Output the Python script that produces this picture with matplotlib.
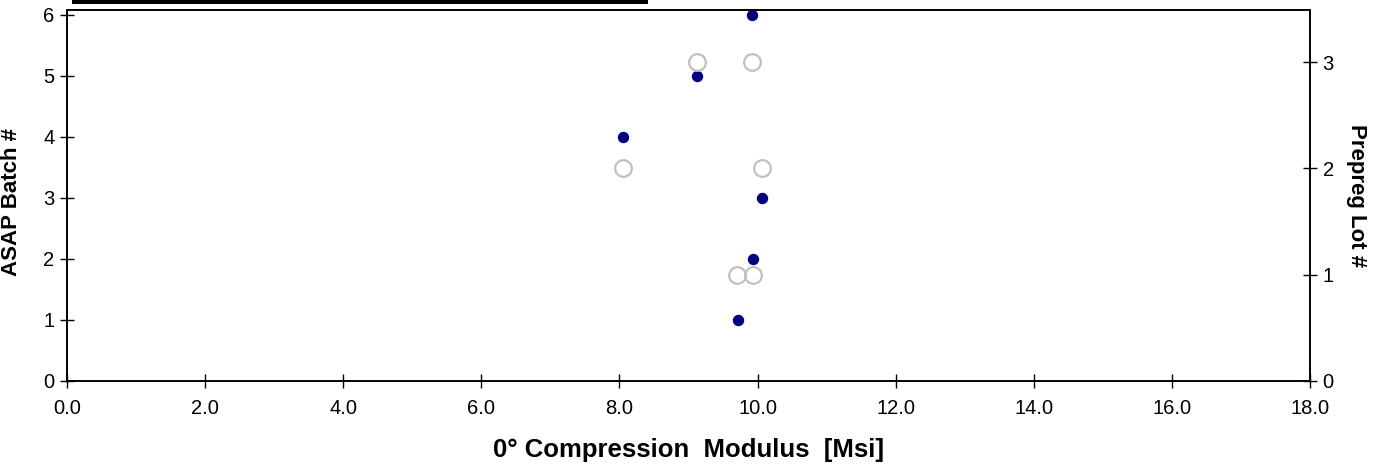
import matplotlib
matplotlib.use("Agg")
import matplotlib.pyplot as plt
from matplotlib.patches import Rectangle
from matplotlib.ticker import FormatStrFormatter

plt.rcParams['font.family'] = ['Liberation Sans', 'DejaVu Sans']

# modulus per ASAP batch (left axis)
batch_no = [1, 2, 3, 4, 5, 6]
batch_modulus = [9.72, 9.93, 10.06, 8.05, 9.12, 9.92]

# modulus per prepreg lot (right axis)
lot_no = [1, 1, 2, 2, 3, 3]
lot_modulus = [9.70, 9.93, 8.05, 10.06, 9.12, 9.92]

x_ticks = [0, 2, 4, 6, 8, 10, 12, 14, 16, 18]

fig = plt.figure(figsize=(13.84, 4.74), dpi=100)
ax = fig.add_axes([67 / 1384, 1 - 381 / 474, (1310 - 67) / 1384, (381 - 10) / 474])
ax2 = ax.twinx()

ax.plot(batch_modulus, batch_no, 'o', color='#000080', markersize=7.2,
        linestyle='none', clip_on=False, zorder=5)
ax2.plot(lot_modulus, lot_no, 'o', markerfacecolor='none', markeredgecolor='#c0c0c0',
         markeredgewidth=1.6, markersize=12, linestyle='none', clip_on=False)

ax.set_xlim(0, 18)
ax.set_ylim(0, 6.08)
ax2.set_ylim(0, 3.49)
ax.set_xticks(x_ticks)
ax.xaxis.set_major_formatter(FormatStrFormatter('%.1f'))
ax.set_yticks(range(0, 7))
ax2.set_yticks(range(0, 4))

for a in (ax, ax2):
    a.tick_params(direction='inout', length=10, width=1, labelsize=14.5, pad=4)
    for s in a.spines.values():
        s.set_linewidth(1.2)
ax.tick_params(axis='x', pad=8)

ax.set_xlabel('0° Compression  Modulus  [Msi]', fontsize=18.5, fontweight='bold', labelpad=14)
ax.set_ylabel('ASAP Batch #', fontsize=16, fontweight='bold')
ax2.set_ylabel('Prepreg Lot #', fontsize=16, fontweight='bold', rotation=-90, labelpad=24)
ax.yaxis.set_label_coords(-0.0365, 0.4825)

# bottom edge of the legend frame above the plot
fig.patches.append(Rectangle((72 / 1384, 1 - 4 / 474), (648 - 72) / 1384, 4 / 474,
                             transform=fig.transFigure, facecolor='black',
                             edgecolor='none'))

fig.savefig('out.png', dpi=100)
